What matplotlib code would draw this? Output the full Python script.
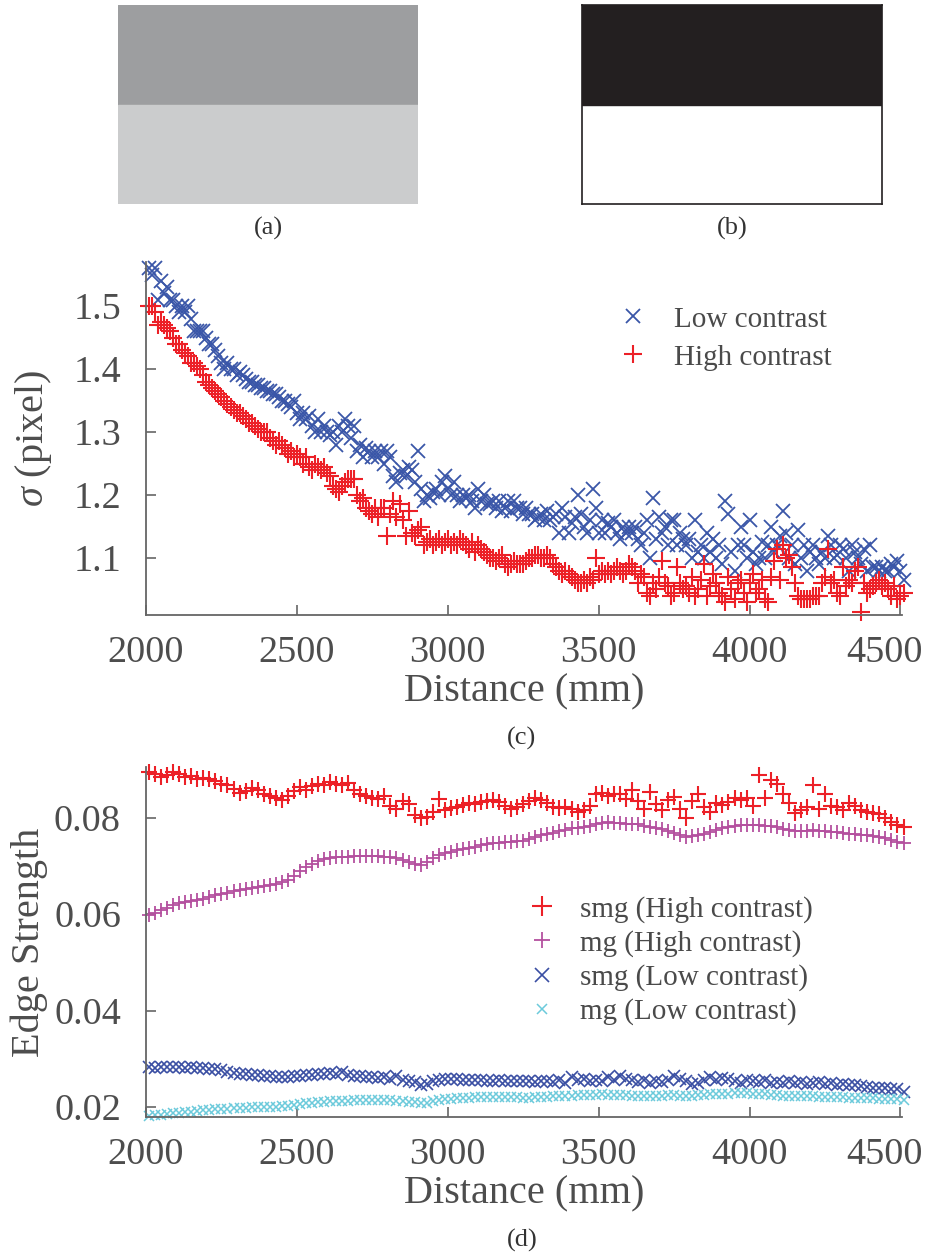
import numpy as np
import matplotlib
matplotlib.use("Agg")
import matplotlib.pyplot as plt
from matplotlib.patches import Rectangle
from matplotlib.transforms import ScaledTranslation

plt.rcParams.update({
    "font.family": "Liberation Serif",
    "mathtext.fontset": "custom",
    "mathtext.rm": "Liberation Serif",
    "mathtext.it": "Liberation Serif:italic",
    "text.color": "#4a4a4a",
})

# ---- data: sigma vs distance, panel (c), 10 mm steps from 2010 to 4510 ----
dist_c = np.arange(2010, 4520, 10)
sigma_low = [
    1.56, 1.55, 1.56, 1.51, 1.54, 1.52, 1.53, 1.51, 1.51, 1.50,
    1.49, 1.50, 1.49, 1.50, 1.48, 1.46, 1.46, 1.46, 1.46, 1.45,
    1.44, 1.44, 1.43, 1.42, 1.41, 1.40, 1.41, 1.40, 1.40, 1.39,
    1.395, 1.39, 1.385, 1.38, 1.38, 1.375, 1.375, 1.37, 1.37, 1.365,
    1.365, 1.36, 1.36, 1.355, 1.35, 1.35, 1.345, 1.34, 1.35, 1.33,
    1.32, 1.33, 1.32, 1.325, 1.31, 1.30, 1.32, 1.30, 1.31, 1.30,
    1.295, 1.30, 1.28, 1.31, 1.30, 1.32, 1.31, 1.29, 1.31, 1.27,
    1.28, 1.26, 1.275, 1.27, 1.26, 1.27, 1.26, 1.27, 1.25, 1.27,
    1.26, 1.23, 1.22, 1.235, 1.24, 1.23, 1.245, 1.24, 1.22, 1.27,
    1.21, 1.19, 1.20, 1.195, 1.205, 1.21, 1.20, 1.22, 1.23, 1.21,
    1.20, 1.22, 1.20, 1.19, 1.20, 1.195, 1.20, 1.19, 1.18, 1.21,
    1.19, 1.20, 1.185, 1.185, 1.19, 1.18, 1.19, 1.175, 1.18, 1.19,
    1.175, 1.19, 1.18, 1.18, 1.17, 1.18, 1.17, 1.17, 1.16, 1.165,
    1.17, 1.16, 1.175, 1.16, 1.165, 1.17, 1.14, 1.18, 1.165, 1.14,
    1.155, 1.165, 1.20, 1.17, 1.15, 1.14, 1.16, 1.21, 1.18, 1.14,
    1.16, 1.14, 1.155, 1.15, 1.16, 1.14, 1.13, 1.15, 1.14, 1.15,
    1.14, 1.15, 1.13, 1.12, 1.14, 1.16, 1.10, 1.195, 1.13, 1.165,
    1.14, 1.15, 1.12, 1.16, 1.16, 1.12, 1.14, 1.13, 1.12, 1.13,
    1.10, 1.16, 1.11, 1.12, 1.10, 1.14, 1.11, 1.13, 1.10, 1.12,
    1.09, 1.19, 1.17, 1.11, 1.08, 1.12, 1.15, 1.12, 1.10, 1.16,
    1.11, 1.09, 1.10, 1.125, 1.10, 1.12, 1.15, 1.11, 1.12, 1.135,
    1.175, 1.14, 1.10, 1.12, 1.09, 1.145, 1.10, 1.12, 1.08, 1.11,
    1.12, 1.10, 1.09, 1.11, 1.10, 1.135, 1.12, 1.10, 1.105, 1.12,
    1.115, 1.10, 1.08, 1.12, 1.11, 1.10, 1.09, 1.115, 1.08, 1.12,
    1.085, 1.085, 1.08, 1.085, 1.08, 1.08, 1.09, 1.085, 1.095, 1.08,
    1.065,
]
sigma_high = [
    1.50, 1.50, 1.49, 1.47, 1.475, 1.47, 1.465, 1.46, 1.45, 1.44,
    1.44, 1.43, 1.425, 1.42, 1.41, 1.41, 1.405, 1.40, 1.39, 1.38,
    1.375, 1.37, 1.365, 1.36, 1.355, 1.35, 1.345, 1.34, 1.335, 1.33,
    1.33, 1.325, 1.32, 1.315, 1.315, 1.31, 1.305, 1.30, 1.30, 1.30,
    1.29, 1.285, 1.28, 1.285, 1.28, 1.275, 1.265, 1.27, 1.26, 1.265,
    1.26, 1.25, 1.26, 1.245, 1.24, 1.25, 1.245, 1.24, 1.245, 1.235,
    1.23, 1.215, 1.21, 1.205, 1.215, 1.22, 1.225, 1.225, 1.225, 1.20,
    1.19, 1.195, 1.18, 1.175, 1.17, 1.18, 1.165, 1.18, 1.18, 1.135,
    1.17, 1.19, 1.165, 1.185, 1.16, 1.135, 1.175, 1.14, 1.135, 1.145,
    1.15, 1.12, 1.125, 1.13, 1.12, 1.125, 1.13, 1.12, 1.125, 1.13,
    1.12, 1.125, 1.12, 1.13, 1.125, 1.12, 1.115, 1.125, 1.11, 1.12,
    1.115, 1.11, 1.105, 1.10, 1.10, 1.095, 1.10, 1.105, 1.09, 1.085,
    1.09, 1.095, 1.09, 1.09, 1.09, 1.095, 1.10, 1.10, 1.105, 1.105,
    1.10, 1.10, 1.105, 1.10, 1.09, 1.085, 1.08, 1.075, 1.08, 1.075,
    1.07, 1.065, 1.06, 1.06, 1.065, 1.06, 1.07, 1.065, 1.10, 1.075,
    1.08, 1.075, 1.08, 1.075, 1.08, 1.085, 1.08, 1.075, 1.08, 1.09,
    1.085, 1.08, 1.06, 1.075, 1.07, 1.045, 1.04, 1.06, 1.05, 1.07,
    1.095, 1.06, 1.055, 1.04, 1.045, 1.085, 1.06, 1.05, 1.055, 1.045,
    1.07, 1.04, 1.05, 1.065, 1.09, 1.04, 1.055, 1.075, 1.06, 1.045,
    1.04, 1.03, 1.07, 1.05, 1.035, 1.06, 1.065, 1.045, 1.03, 1.06,
    1.075, 1.045, 1.05, 1.065, 1.035, 1.03, 1.07, 1.095, 1.115, 1.065,
    1.12, 1.10, 1.105, 1.085, 1.06, 1.04, 1.035, 1.035, 1.035, 1.035,
    1.04, 1.04, 1.04, 1.06, 1.07, 1.115, 1.06, 1.065, 1.045, 1.04,
    1.085, 1.055, 1.065, 1.06, 1.08, 1.085, 1.015, 1.06, 1.045, 1.05,
    1.055, 1.06, 1.065, 1.055, 1.06, 1.05, 1.04, 1.055, 1.035, 1.04,
    1.045,
]

# ---- data: edge strength vs distance, panel (d), 20 mm steps ----
dist_d = np.arange(2010, 4520, 20)
smg_high = [
    0.0895, 0.0890, 0.0885, 0.0888, 0.0895, 0.0890, 0.0885, 0.0887, 0.0880, 0.0883,
    0.0880, 0.0875, 0.0870, 0.0868, 0.0860, 0.0852, 0.0855, 0.0862, 0.0858, 0.0850,
    0.0845, 0.0840, 0.0837, 0.0845, 0.0855, 0.0864, 0.0858, 0.0865, 0.0870, 0.0868,
    0.0873, 0.0870, 0.0868, 0.0872, 0.0858, 0.0850, 0.0845, 0.0841, 0.0838, 0.0845,
    0.0825, 0.0817, 0.0835, 0.0828, 0.0805, 0.0800, 0.0802, 0.0812, 0.0838, 0.0815,
    0.0820, 0.0822, 0.0827, 0.0830, 0.0828, 0.0833, 0.0835, 0.0837, 0.0832, 0.0825,
    0.0817, 0.0822, 0.0828, 0.0835, 0.0841, 0.0836, 0.0830, 0.0822, 0.0819, 0.0822,
    0.0818, 0.0812, 0.0815, 0.0825, 0.0848, 0.0852, 0.0845, 0.0850, 0.0848, 0.0838,
    0.0858, 0.0835, 0.0817, 0.0854, 0.0828, 0.0815, 0.0837, 0.0843, 0.0818, 0.0800,
    0.0835, 0.0848, 0.0822, 0.0812, 0.0830, 0.0826, 0.0832, 0.0841, 0.0836, 0.0841,
    0.0825, 0.0889, 0.0840, 0.0879, 0.0870, 0.0848, 0.0830, 0.0810, 0.0815, 0.0822,
    0.0868, 0.0818, 0.0848, 0.0825, 0.0823, 0.0815, 0.0830, 0.0825, 0.0815, 0.0812,
    0.0810, 0.0808, 0.0800, 0.0790, 0.0785, 0.0780,
]
mg_high = [
    0.0599, 0.0602, 0.0608, 0.0613, 0.0618, 0.0622, 0.0625, 0.0627, 0.0629, 0.0632,
    0.0636, 0.0639, 0.0641, 0.0643, 0.0647, 0.0649, 0.0652, 0.0654, 0.0656, 0.0658,
    0.0660, 0.0663, 0.0666, 0.0670, 0.0678, 0.0690, 0.0697, 0.0704, 0.0711, 0.0714,
    0.0716, 0.0718, 0.0719, 0.0718, 0.0720, 0.0720, 0.0721, 0.0721, 0.0720, 0.0719,
    0.0718, 0.0716, 0.0712, 0.0709, 0.0704, 0.0702, 0.0708, 0.0716, 0.0722, 0.0726,
    0.0729, 0.0732, 0.0736, 0.0738, 0.0740, 0.0743, 0.0745, 0.0747, 0.0748, 0.0749,
    0.0750, 0.0751, 0.0752, 0.0756, 0.0760, 0.0764, 0.0766, 0.0769, 0.0772, 0.0775,
    0.0778, 0.0779, 0.0781, 0.0783, 0.0786, 0.0789, 0.0790, 0.0789, 0.0788, 0.0787,
    0.0787, 0.0786, 0.0783, 0.0780, 0.0778, 0.0776, 0.0772, 0.0768, 0.0763, 0.0759,
    0.0761, 0.0764, 0.0767, 0.0771, 0.0774, 0.0778, 0.0781, 0.0783, 0.0784, 0.0785,
    0.0785, 0.0784, 0.0783, 0.0782, 0.0780, 0.0777, 0.0774, 0.0772, 0.0772, 0.0773,
    0.0774, 0.0773, 0.0772, 0.0771, 0.0770, 0.0769, 0.0767, 0.0766, 0.0765, 0.0763,
    0.0761, 0.0759, 0.0757, 0.0754, 0.0750, 0.0748,
]
smg_low = [
    0.0283, 0.0281, 0.0282, 0.0284, 0.0282, 0.0283, 0.0281, 0.0282, 0.0280, 0.0281,
    0.0279, 0.0278, 0.0276, 0.0273, 0.0270, 0.0269, 0.0268, 0.0267, 0.0266, 0.0265,
    0.0264, 0.0263, 0.0262, 0.0263, 0.0264, 0.0265, 0.0266, 0.0267, 0.0268, 0.0269,
    0.0270, 0.0268, 0.0272, 0.0266, 0.0265, 0.0264, 0.0262, 0.0262, 0.0261, 0.0263,
    0.0258, 0.0264, 0.0256, 0.0253, 0.0252, 0.0245, 0.0248, 0.0254, 0.0256, 0.0258,
    0.0259, 0.0258, 0.0257, 0.0256, 0.0257, 0.0255, 0.0254, 0.0254, 0.0255, 0.0254,
    0.0253, 0.0254, 0.0253, 0.0254, 0.0252, 0.0253, 0.0254, 0.0252, 0.0256, 0.0250,
    0.0262, 0.0256, 0.0258, 0.0254, 0.0255, 0.0254, 0.0262, 0.0257, 0.0264, 0.0258,
    0.0255, 0.0252, 0.0256, 0.0250, 0.0254, 0.0252, 0.0255, 0.0264, 0.0258, 0.0254,
    0.0248, 0.0250, 0.0256, 0.0262, 0.0257, 0.0260, 0.0258, 0.0253, 0.0250, 0.0257,
    0.0253, 0.0251, 0.0256, 0.0250, 0.0252, 0.0249, 0.0254, 0.0250, 0.0252, 0.0248,
    0.0250, 0.0252, 0.0247, 0.0249, 0.0246, 0.0248, 0.0245, 0.0246, 0.0243, 0.0242,
    0.0240, 0.0239, 0.0240, 0.0238, 0.0237, 0.0232,
]
mg_low = [
    0.0182, 0.0183, 0.0184, 0.0186, 0.0187, 0.0188, 0.0189, 0.0190, 0.0192, 0.0193,
    0.0194, 0.0195, 0.0196, 0.0196, 0.0197, 0.0197, 0.0198, 0.0199, 0.0199, 0.0200,
    0.0200, 0.0201, 0.0202, 0.0203, 0.0205, 0.0207, 0.0208, 0.0209, 0.0210, 0.0211,
    0.0212, 0.0212, 0.0213, 0.0213, 0.0214, 0.0214, 0.0215, 0.0215, 0.0215, 0.0214,
    0.0214, 0.0213, 0.0212, 0.0211, 0.0210, 0.0208, 0.0209, 0.0213, 0.0215, 0.0216,
    0.0217, 0.0218, 0.0219, 0.0219, 0.0220, 0.0220, 0.0220, 0.0221, 0.0221, 0.0220,
    0.0220, 0.0220, 0.0219, 0.0219, 0.0220, 0.0220, 0.0221, 0.0222, 0.0222, 0.0223,
    0.0223, 0.0224, 0.0224, 0.0225, 0.0225, 0.0226, 0.0225, 0.0225, 0.0224, 0.0224,
    0.0223, 0.0223, 0.0222, 0.0222, 0.0223, 0.0223, 0.0224, 0.0224, 0.0223, 0.0222,
    0.0223, 0.0224, 0.0225, 0.0226, 0.0227, 0.0228, 0.0228, 0.0229, 0.0229, 0.0229,
    0.0228, 0.0227, 0.0226, 0.0225, 0.0224, 0.0223, 0.0222, 0.0222, 0.0222, 0.0222,
    0.0222, 0.0221, 0.0221, 0.0220, 0.0220, 0.0220, 0.0219, 0.0219, 0.0218, 0.0218,
    0.0218, 0.0217, 0.0217, 0.0216, 0.0216, 0.0215,
]

W, H = 928, 1256
fig = plt.figure(figsize=(W / 100, H / 100), dpi=100)


def px_axes(x0, y0, x1, y1):
    # pixel box (top-left origin) -> figure axes
    return fig.add_axes([x0 / W, 1 - y1 / H, (x1 - x0) / W, (y1 - y0) / H])


# ---- (a) and (b): edge test patterns ----
axa = px_axes(118, 5, 418, 204)
axa.add_patch(Rectangle((0, 0.5), 1, 0.5, color="#9d9ea0", transform=axa.transAxes))
axa.add_patch(Rectangle((0, 0), 1, 0.5, color="#cbcccd", transform=axa.transAxes))
axa.axis("off")

axb = px_axes(582, 5, 882, 204)
axb.add_patch(Rectangle((0, 0.5), 1, 0.5, color="#231f20", transform=axb.transAxes))
axb.set_xticks([])
axb.set_yticks([])
for s in axb.spines.values():
    s.set_color("#231f20")
    s.set_linewidth(1.2)

cap_kw = dict(ha="center", va="center", fontsize=19, color="#333333")
fig.text(268 / W, 1 - 228 / H, "(a)", **cap_kw)
fig.text(732 / W, 1 - 228 / H, "(b)", **cap_kw)
fig.text(522 / W, 1 - 738 / H, "(c)", **cap_kw)
fig.text(522 / W, 1 - 1240 / H, "(d)", **cap_kw)


def style_axes(ax):
    for side in ("top", "right"):
        ax.spines[side].set_visible(False)
    for side in ("left", "bottom"):
        ax.spines[side].set_color("#666666")
        ax.spines[side].set_linewidth(1.3)
    ax.tick_params(direction="in", length=7, width=1.2, color="#666666",
                   labelsize=27.5, labelcolor="#4d4d4d")
    ax.tick_params(axis="x", pad=15)
    ax.tick_params(axis="y", pad=18)
    ax.set_xlim(2000, 4505)
    ax.set_xticks([2000, 2500, 3000, 3500, 4000, 4500])
    ax.set_xlabel("Distance (mm)", fontsize=29, color="#4d4d4d", labelpad=2)
    # keep the last label inside the figure, as in the original
    last = ax.get_xticklabels()[-1]
    last.set_transform(last.get_transform()
                       + ScaledTranslation(-0.16, 0, fig.dpi_scale_trans))


# ---- (c) sigma ----
axc = px_axes(146, 262, 902, 615)
style_axes(axc)
axc.plot(dist_c, sigma_low, ls="none", marker="x", ms=10, mew=1.3,
         color="#3a56a8", label="Low contrast", clip_on=False)
axc.plot(dist_c, sigma_high, ls="none", marker="+", ms=12.5, mew=1.5,
         color="#ec2027", label="High contrast", clip_on=False)
axc.set_ylim(1.0095, 1.57)
axc.set_yticks([1.1, 1.2, 1.3, 1.4, 1.5])
axc.set_ylabel(r"$\sigma$ (pixel)", fontsize=29, color="#4d4d4d", labelpad=14)
axc.legend(loc="upper left", bbox_to_anchor=(0.625, 0.875), frameon=False,
           fontsize=21, numpoints=1, handlelength=1.0, handletextpad=0.9,
           labelspacing=0.4, borderpad=0, borderaxespad=0)

# ---- (d) edge strength ----
axd = px_axes(146, 767, 902, 1117)
style_axes(axd)
axd.plot(dist_d, smg_high, ls="none", marker="+", ms=12, mew=1.5,
         color="#ec2027", label="smg (High contrast)", clip_on=False)
axd.plot(dist_d, mg_high, ls="none", marker="+", ms=10, mew=1.3,
         color="#b4509f", label="mg (High contrast)", clip_on=False)
axd.plot(dist_d, smg_low, ls="none", marker="x", ms=8, mew=1.2,
         color="#3a4fa3", label="smg (Low contrast)", clip_on=False)
axd.plot(dist_d, mg_low, ls="none", marker="x", ms=6.5, mew=1.1,
         color="#6ccadb", label="mg (Low contrast)", clip_on=False)
axd.set_ylim(0.01793, 0.0905)
axd.set_yticks([0.02, 0.04, 0.06, 0.08])
axd.set_yticklabels(["0.02", "0.04", "0.06", "0.08"])
axd.set_ylabel("Edge Strength", fontsize=29, color="#4d4d4d", labelpad=4)
axd.legend(loc="upper left", bbox_to_anchor=(0.504, 0.632), frameon=False,
           fontsize=21, numpoints=1, handlelength=1.0, handletextpad=0.8,
           labelspacing=0.25, borderpad=0, borderaxespad=0, markerscale=1.2)

fig.savefig("out.png", dpi=100)
